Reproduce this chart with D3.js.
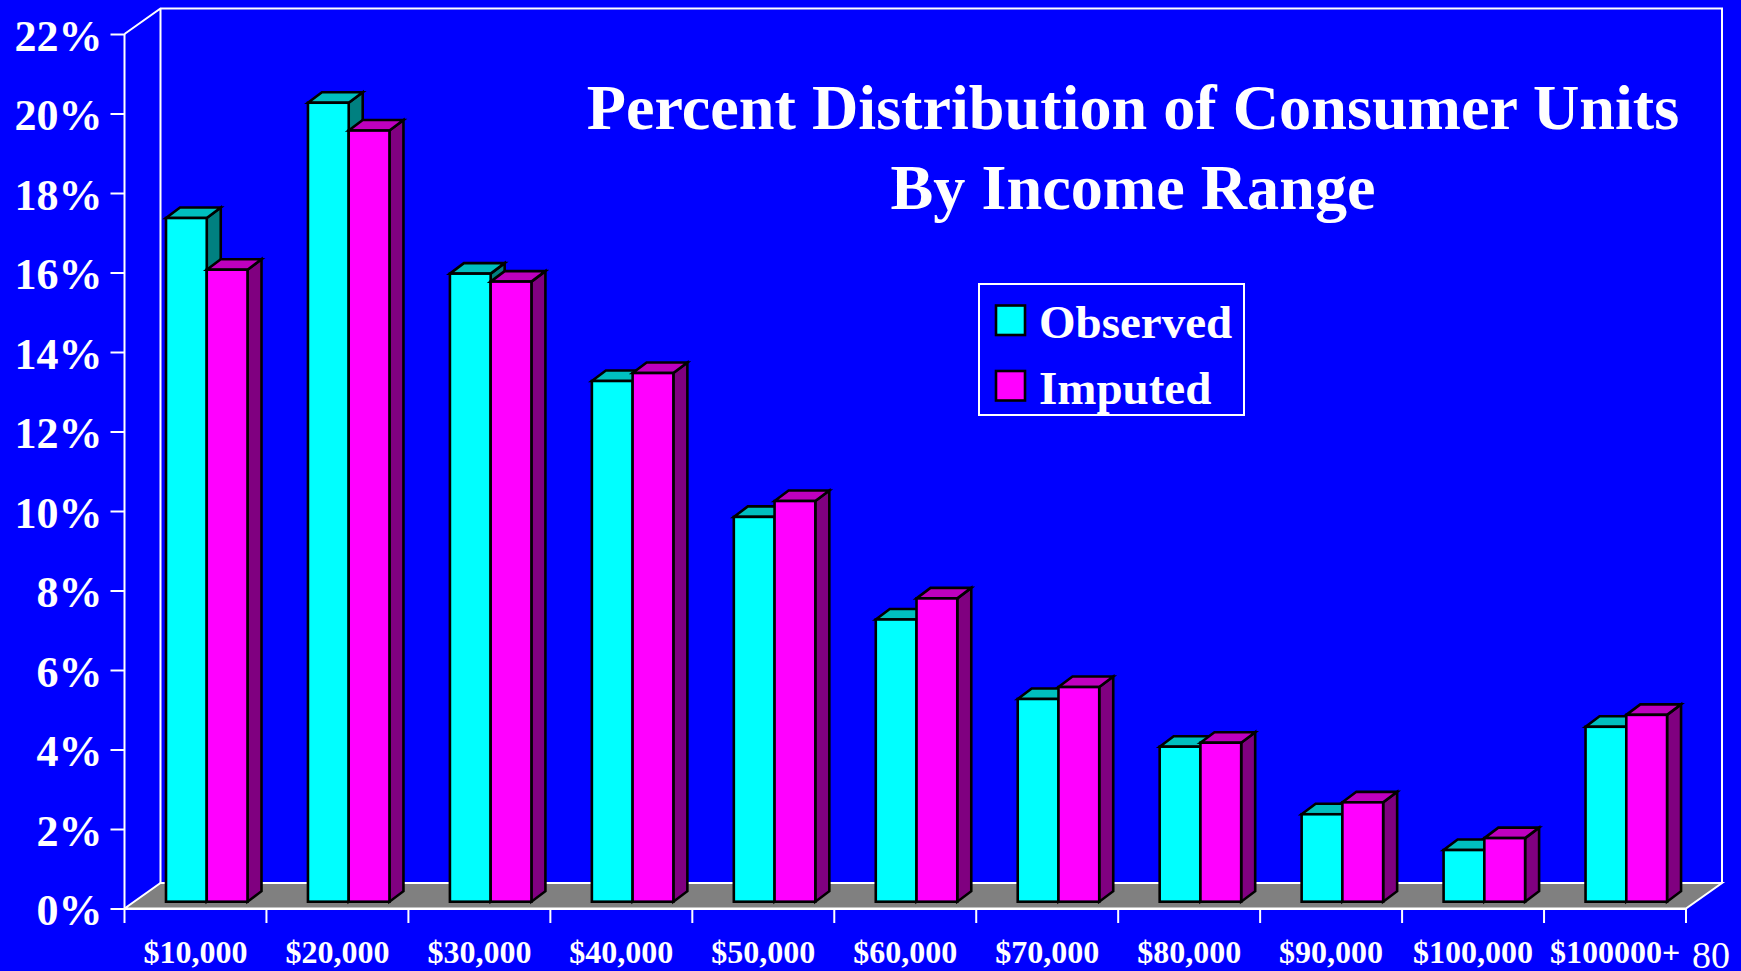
<!DOCTYPE html>
<html><head><meta charset="utf-8">
<script src="https://cdn.jsdelivr.net/npm/d3@7/dist/d3.min.js"></script>
<style>html,body{margin:0;padding:0;background:#0000ff;overflow:hidden}svg{display:block}text{font-family:"Liberation Serif",serif;font-weight:bold;fill:#fff}</style>
</head><body><svg id="c" width="1741" height="971"></svg>
<script>
const categories=["$10,000","$20,000","$30,000","$40,000","$50,000","$60,000","$70,000","$80,000","$90,000","$100,000","$100000+"];
const observed=[17.2,20.1,15.8,13.1,9.68,7.1,5.1,3.9,2.2,1.3,4.4];
const imputed=[15.9,19.4,15.6,13.3,10.08,7.63,5.4,4.0,2.5,1.6,4.7];
const seriesNames=["Observed","Imputed"];
const yTicks=[0,2,4,6,8,10,12,14,16,18,20,22];
const titleLines=["Percent Distribution of Consumer Units","By Income Range"];
const pageNumber="80";
const colors={Observed:["#00ffff","#00bfbf","#008080"],Imputed:["#ff00ff","#bf00bf","#800080"]};

const svg=d3.select("#c");
const x0=124.5,x1=1686,y0=908.5,yT=34,wallDx=36,wallDy=25.5;
const x=d3.scaleBand().domain(categories).range([x0,x1]);
const y=d3.scaleLinear().domain([0,22]).range([y0,yT]);
const W="#fff";
svg.append("rect").attr("width",1741).attr("height",971).attr("fill","#0000ff");

// floor and walls
svg.append("path").attr("d",`M${x0},${y0}L${x0+wallDx},${y0-wallDy}L${x1+wallDx},${y0-wallDy}L${x1},${y0}Z`).attr("fill","#808080").attr("stroke",W).attr("stroke-width",2);
svg.append("path").attr("d",`M${x0},${yT}L${x0+wallDx},${yT-wallDy}L${x1+wallDx},${yT-wallDy}L${x1+wallDx},${y0-wallDy}M${x0+wallDx},${yT-wallDy}L${x0+wallDx},${y0-wallDy}`).attr("fill","none").attr("stroke",W).attr("stroke-width",2);

// axes
const fmtY=d=>d+"%";
const ay=svg.append("g").attr("transform",`translate(${x0},0)`).call(d3.axisLeft(y).tickValues(yTicks).tickFormat(fmtY).tickSize(14).tickPadding(8));
const ax=svg.append("g").attr("transform",`translate(0,${y0})`).call(d3.axisBottom(x).tickSize(0).tickPadding(0));
ax.selectAll(".tick line").remove();
ax.selectAll("path.domain").attr("stroke",W).attr("stroke-width",2);
ay.selectAll("path.domain").attr("stroke",W).attr("stroke-width",2).attr("d",`M0,${yT}L0,${y0}`);
ay.selectAll("line").attr("stroke",W).attr("stroke-width",2);
ay.selectAll("text").attr("font-size",44).attr("dy",null).attr("y",16).attr("fill",W);
ax.selectAll("text").attr("font-size",32).attr("dy",null).attr("y",54).attr("fill",W);
ay.attr("font-family",null);ax.attr("font-family",null);
const edges=categories.map(c=>x(c)).concat([x1]);
svg.append("g").selectAll("line").data(edges).join("line")
  .attr("x1",d=>d).attr("x2",d=>d).attr("y1",y0).attr("y2",y0+14.5).attr("stroke",W).attr("stroke-width",2);

// bars
const bd=14,bh=10.5,lift=6.8;
const bx=d3.scaleBand().domain(seriesNames).range([41.5,123]);
const g=svg.append("g").attr("stroke","#000").attr("stroke-width",2.6).attr("stroke-linejoin","miter");
categories.forEach((c,i)=>{
  [observed[i],imputed[i]].forEach((v,k)=>{
    const n=seriesNames[k],col=colors[n];
    const l=x(c)+bx(n),r=l+bx.bandwidth(),t=y(v)-lift,b=y(0)-lift;
    g.append("path").attr("d",`M${r},${t}L${r+bd},${t-bh}L${r+bd},${b-bh}L${r},${b}Z`).attr("fill",col[2]);
    g.append("path").attr("d",`M${l},${t}L${l+bd},${t-bh}L${r+bd},${t-bh}L${r},${t}Z`).attr("fill",col[1]);
    g.append("rect").attr("x",l).attr("y",t).attr("width",r-l).attr("height",b-t).attr("fill",col[0]);
  });
});

// title
svg.append("g").selectAll("text").data(titleLines).join("text")
  .attr("x",1133).attr("y",(d,i)=>129+i*80).attr("text-anchor","middle").attr("font-size",64.2).text(d=>d);

// legend
svg.append("rect").attr("x",979).attr("y",284).attr("width",265).attr("height",131).attr("fill","none").attr("stroke",W).attr("stroke-width",2);
const lg=svg.append("g").selectAll("g").data(seriesNames).join("g").attr("transform",(d,i)=>`translate(0,${i*65.5})`);
lg.append("rect").attr("x",996).attr("y",305.5).attr("width",29).attr("height",29.5).attr("fill",d=>colors[d][0]).attr("stroke","#000").attr("stroke-width",2.6);
lg.append("text").attr("x",1039).attr("y",338).attr("font-size",47).text(d=>d);

svg.append("text").attr("x",1692).attr("y",968).attr("font-size",38).style("font-weight","normal").text(pageNumber);
</script></body></html>
